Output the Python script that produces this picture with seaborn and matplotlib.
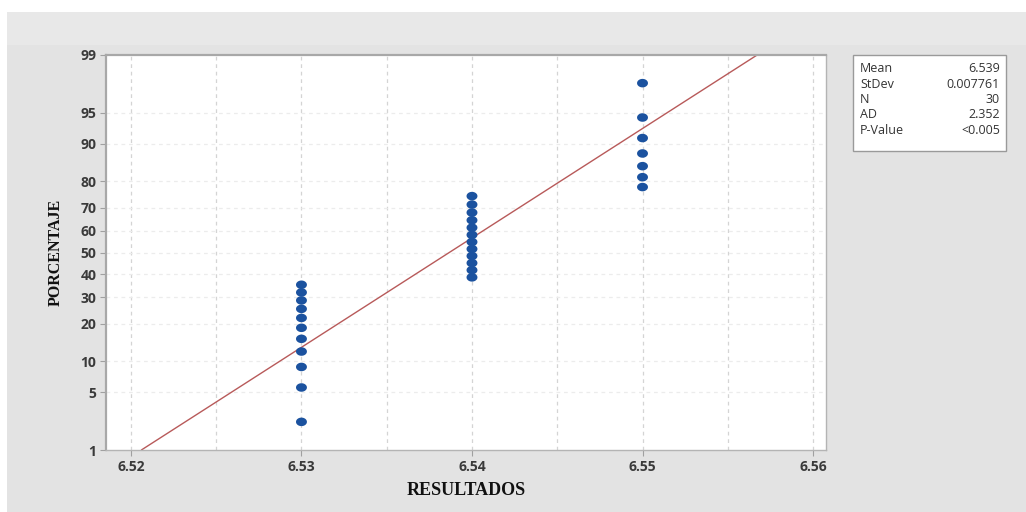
import numpy as np
import pandas as pd
import matplotlib
matplotlib.use("Agg")
import matplotlib.pyplot as plt
from matplotlib.patches import Rectangle
from matplotlib.path import Path
import seaborn as sns
from statistics import NormalDist

# ---- data ----
result_values = [6.53, 6.54, 6.55]
result_counts = [11, 12, 7]
y_tick_pcts = [1, 5, 10, 20, 30, 40, 50, 60, 70, 80, 90, 95, 99]
x_tick_vals = [6.52, 6.53, 6.54, 6.55, 6.56]
stat_names = ["Mean", "StDev", "N", "AD", "P-Value"]
stat_values = ["6.539", "0.007761", "30", "2.352", "<0.005"]

nd = NormalDist()
obs = np.repeat(result_values, result_counts)
n = len(obs)
ranks = np.arange(1, n + 1)
pct = (ranks - 0.3) / (n + 0.4)          # median-rank plotting position
z = np.array([nd.inv_cdf(p) for p in pct])
df = pd.DataFrame({"RESULTADOS": obs, "z": z})

mean = obs.mean()
sd = obs.std(ddof=1)
zlim = nd.inv_cdf(0.99)
fit = pd.DataFrame({"z": [-zlim, zlim]})
fit["x"] = mean + sd * fit["z"]

# slightly wide elliptical marker (image is stretched horizontally)
t = np.linspace(0, 2 * np.pi, 40)
ell = Path(np.column_stack([np.cos(t), 0.78 * np.sin(t)]), closed=True)

sns.set_theme(style="white")
plt.rcParams["font.family"] = ["Open Sans", "DejaVu Sans"]

fig = plt.figure(figsize=(10.26, 5.12), dpi=100)
fig.patch.set_facecolor("white")
fig.add_artist(Rectangle((7 / 1026, 0), 1 - 7 / 1026, 500 / 512,
                         transform=fig.transFigure, facecolor="#e3e3e3",
                         edgecolor="none", zorder=-10))
fig.add_artist(Rectangle((7 / 1026, 467 / 512), 1 - 7 / 1026, 33 / 512,
                         transform=fig.transFigure, facecolor="#e8e8e8",
                         edgecolor="none", zorder=-9))

ax = fig.add_axes([106 / 1026, 62 / 512, 720 / 1026, 395 / 512])
ax.set_facecolor("white")

# grid
for gx in np.arange(6.52, 6.5601, 0.005):
    ax.axvline(gx, color="#d4d4d4", lw=0.9, ls=(0, (3, 3)), zorder=0)
for p in y_tick_pcts[1:-1]:
    ax.axhline(nd.inv_cdf(p / 100), color="#ececec", lw=0.9, ls=(0, (3, 3)), zorder=0)

sns.lineplot(data=fit, x="x", y="z", ax=ax, color="#b85a5a", lw=1.0,
             sort=False, zorder=2)
sns.scatterplot(data=df, x="RESULTADOS", y="z", ax=ax, color="#1b529f",
                s=62, marker=ell, edgecolor="none", zorder=3)

ax.set_xlim(6.52 - 25 / 17100, 6.56 + 13 / 17100)
ax.set_ylim(-zlim, zlim)
ax.set_xticks(x_tick_vals)
ax.set_xticklabels([f"{v:.2f}" for v in x_tick_vals])
ax.set_yticks([nd.inv_cdf(p / 100) for p in y_tick_pcts])
ax.set_yticklabels([str(p) for p in y_tick_pcts])
ax.tick_params(axis="both", which="both", direction="out", length=4,
               width=0.8, color="#a0a0a0", labelsize=10, labelcolor="#3a3a3a",
               pad=3, left=True, bottom=True)
for lab in ax.get_xticklabels() + ax.get_yticklabels():
    lab.set_fontweight("bold")

for side in ["left", "top"]:
    ax.spines[side].set_color("#a8a8a8")
    ax.spines[side].set_linewidth(1.6)
for side in ["right", "bottom"]:
    ax.spines[side].set_color("#b4b4b4")
    ax.spines[side].set_linewidth(1.0)

ax.set_xlabel("RESULTADOS", family=["Liberation Serif"], fontweight="bold",
              fontsize=13, color="#111111", labelpad=6)
ax.set_ylabel("PORCENTAJE", family=["Liberation Serif"], fontweight="bold",
              fontsize=11.5, color="#111111", labelpad=12)

# stats box
bx0, by0, bw, bh = 853 / 1026, (512 - 151) / 512, 153 / 1026, 96 / 512
fig.add_artist(Rectangle((bx0, by0), bw, bh, transform=fig.transFigure,
                         facecolor="white", edgecolor="#9a9a9a", lw=1.0))
for i, (nm, vl) in enumerate(zip(stat_names, stat_values)):
    yy = (512 - 69 - i * 15.3) / 512
    fig.text(bx0 + 7 / 1026, yy, nm, fontsize=9, color="#333333", va="center", ha="left")
    fig.text(bx0 + bw - 6 / 1026, yy, vl, fontsize=9, color="#333333", va="center", ha="right")

fig.savefig("out.png", dpi=100, facecolor=fig.get_facecolor())
